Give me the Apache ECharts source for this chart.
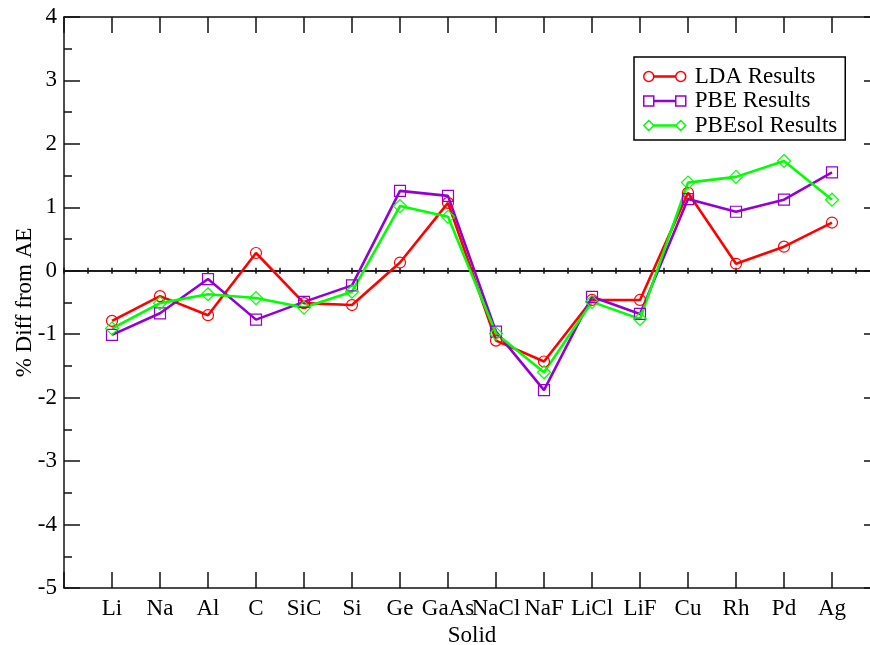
<!DOCTYPE html>
<html>
<head>
<meta charset="utf-8">
<script src="https://cdn.jsdelivr.net/npm/echarts@6/dist/echarts.min.js"></script>
<style>
  html, body { margin: 0; padding: 0; background: #fff; }
  #chart { width: 870px; height: 645px; }
</style>
</head>
<body>
<div id="chart"></div>
<script>
// Solids, in plotting order along the x axis
const categories = ['Li', 'Na', 'Al', 'C', 'SiC', 'Si', 'Ge', 'GaAs', 'NaCl', 'NaF', 'LiCl', 'LiF', 'Cu', 'Rh', 'Pd', 'Ag'];

// Percent difference from all-electron reference, per functional
const ldaValues    = [-0.79, -0.40, -0.70,  0.28, -0.51, -0.54, 0.13, 1.07, -1.10, -1.43, -0.46, -0.46, 1.23, 0.11, 0.38, 0.76];
const pbeValues    = [-1.01, -0.67, -0.13, -0.77, -0.49, -0.23, 1.26, 1.18, -0.96, -1.88, -0.41, -0.68, 1.13, 0.93, 1.12, 1.55];
const pbesolValues = [-0.91, -0.51, -0.37, -0.43, -0.58, -0.33, 1.02, 0.85, -0.99, -1.60, -0.49, -0.76, 1.39, 1.48, 1.73, 1.12];

const yTicks = [-5, -4, -3, -2, -1, 0, 1, 2, 3, 4];

const FONT = 'Liberation Serif';
const FONT_SIZE = 23;
const AXIS_COLOR = '#111';
const RED = '#ff0000';
const VIOLET = '#9400d3';
const GREEN = '#00ff00';

// Solids sit at x = 1..N on a numeric axis padded by one unit either side
const toPoints = vals => vals.map((v, i) => [i + 1, v]);

const frameLine = { color: AXIS_COLOR, width: 1.5 };

// Legend glyphs: a line segment with a marker at each end
const ICON_CIRCLE  = 'path://M0,5 A5,5 0 1,1 10,5 A5,5 0 1,1 0,5 Z M10,4.4 L32,4.4 M10,5.6 L32,5.6 M32,5 A5,5 0 1,1 42,5 A5,5 0 1,1 32,5 Z';
const ICON_SQUARE  = 'path://M0,0 L10,0 L10,10 L0,10 Z M10,4.4 L32,4.4 M10,5.6 L32,5.6 M32,0 L42,0 L42,10 L32,10 Z';
const ICON_DIAMOND = 'path://M0,5 L5,0 L10,5 L5,10 Z M10,4.4 L32,4.4 M10,5.6 L32,5.6 M32,5 L37,0 L42,5 L37,10 Z';

function makeSeries(name, values, color, symbol, size) {
  return {
    name: name,
    type: 'line',
    xAxisIndex: 0,
    yAxisIndex: 0,
    data: toPoints(values),
    symbol: symbol,
    symbolSize: size,
    showAllSymbol: true,
    lineStyle: { color: color, width: 2.6 },
    itemStyle: { color: 'rgba(0,0,0,0)', borderColor: color, borderWidth: 1.2 },
    emphasis: { disabled: true },
    animation: false
  };
}

const chart = echarts.init(document.getElementById('chart'), null, { renderer: 'canvas' });

chart.setOption({
  backgroundColor: '#fff',
  animation: false,
  grid: {
    left: 64, top: 17, width: 816, height: 571,
    containLabel: false,
    outerBoundsMode: 'none'
  },
  legend: {
    orient: 'vertical',
    left: 634,
    top: 57,
    padding: [8, 8, 3, 9],
    itemGap: 1.5,
    itemWidth: 42,
    itemHeight: 10,
    borderColor: '#000',
    borderWidth: 1.5,
    backgroundColor: '#fff',
    selectedMode: false,
    textStyle: { fontFamily: FONT, fontSize: FONT_SIZE, color: '#000', padding: [0, 0, 0, 4] },
    data: [
      { name: 'LDA Results', icon: ICON_CIRCLE, itemStyle: { color: 'rgba(0,0,0,0)', borderColor: RED, borderWidth: 1.5 } },
      { name: 'PBE Results', icon: ICON_SQUARE, itemStyle: { color: 'rgba(0,0,0,0)', borderColor: VIOLET, borderWidth: 1.5 } },
      { name: 'PBEsol Results', icon: ICON_DIAMOND, itemStyle: { color: 'rgba(0,0,0,0)', borderColor: GREEN, borderWidth: 1.5 } }
    ]
  },
  xAxis: [
    {
      // bottom frame with solid names
      type: 'value', position: 'bottom', min: 0, max: categories.length + 1, interval: 1,
      axisLine: { onZero: false, lineStyle: frameLine },
      axisTick: { inside: true, length: 16, lineStyle: frameLine },
      axisLabel: {
        margin: 9, fontFamily: FONT, fontSize: FONT_SIZE, color: '#000',
        formatter: v => categories[v - 1] || ''
      },
      splitLine: { show: false },
      name: 'Solid', nameLocation: 'middle', nameGap: 35,
      nameTextStyle: { fontFamily: FONT, fontSize: FONT_SIZE, color: '#000' }
    },
    {
      // top frame
      type: 'value', position: 'top', min: 0, max: categories.length + 1, interval: 1,
      axisLine: { onZero: false, lineStyle: frameLine },
      axisTick: { inside: true, length: 16, lineStyle: frameLine },
      axisLabel: { show: false },
      splitLine: { show: false }
    },
    {
      // zero reference line, ticks above
      type: 'value', position: 'bottom', min: 0, max: categories.length + 1, interval: 0.5,
      axisLine: { onZero: true, onZeroAxisIndex: 0, lineStyle: frameLine },
      axisTick: { inside: true, length: 3, lineStyle: frameLine },
      axisLabel: { show: false },
      splitLine: { show: false }
    },
    {
      // zero reference line, ticks below
      type: 'value', position: 'bottom', min: 0, max: categories.length + 1, interval: 0.5,
      axisLine: { onZero: true, onZeroAxisIndex: 0, lineStyle: frameLine },
      axisTick: { inside: false, length: 3, lineStyle: frameLine },
      axisLabel: { show: false },
      splitLine: { show: false }
    }
  ],
  yAxis: [
    {
      type: 'value', position: 'left', min: yTicks[0], max: yTicks[yTicks.length - 1], interval: 1,
      axisLine: { onZero: false, lineStyle: frameLine },
      axisTick: { inside: true, length: 16, lineStyle: frameLine },
      minorTick: { show: true, splitNumber: 2, length: 8, lineStyle: frameLine },
      axisLabel: { margin: 7, fontFamily: FONT, fontSize: FONT_SIZE, color: '#000' },
      splitLine: { show: false },
      name: '% Diff from AE', nameLocation: 'middle', nameGap: 28, nameMoveOverlap: false,
      nameTextStyle: { fontFamily: FONT, fontSize: FONT_SIZE, color: '#000' }
    },
    {
      type: 'value', position: 'right', min: yTicks[0], max: yTicks[yTicks.length - 1], interval: 1,
      axisLine: { onZero: false, lineStyle: frameLine },
      axisTick: { inside: true, length: 16, lineStyle: frameLine },
      minorTick: { show: true, splitNumber: 2, length: 8, lineStyle: frameLine },
      axisLabel: { show: false },
      splitLine: { show: false }
    }
  ],
  series: [
    makeSeries('LDA Results', ldaValues, RED, 'circle', 11),
    makeSeries('PBE Results', pbeValues, VIOLET, 'rect', 11),
    makeSeries('PBEsol Results', pbesolValues, GREEN, 'diamond', 13)
  ]
});
</script>
</body>
</html>
